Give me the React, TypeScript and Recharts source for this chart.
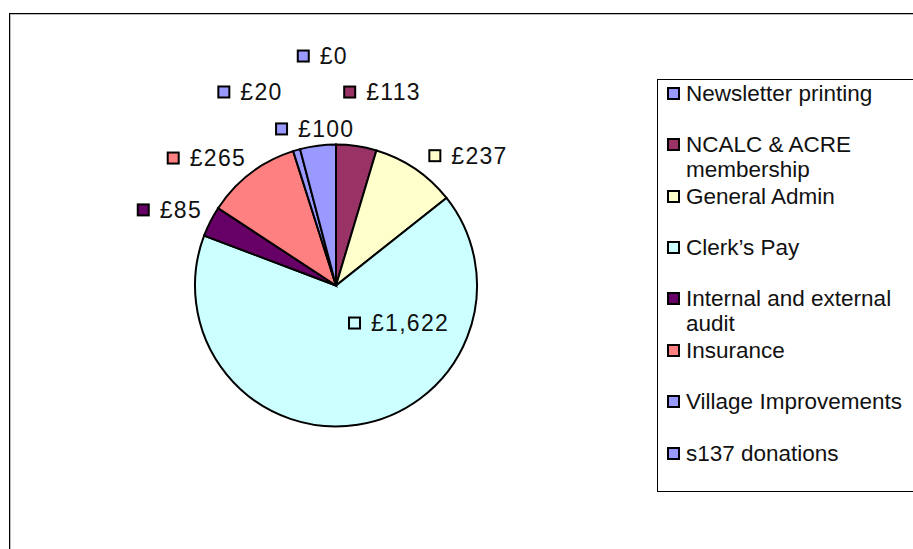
import React from 'react';
import { PieChart, Pie, Cell, Legend } from 'recharts';

const categories = [
  'Newsletter printing',
  'NCALC & ACRE membership',
  'General Admin',
  'Clerk\u2019s Pay',
  'Internal and external audit',
  'Insurance',
  'Village Improvements',
  's137 donations',
];
const values = [0, 113, 237, 1622, 85, 265, 20, 100];
const colors = ['#9999FF', '#993366', '#FFFFCC', '#CCFFFF', '#660066', '#FF8080', '#9999FF', '#9999FF'];

// label placement: angle nudge (deg, clockwise) and distance from pie centre (px)
const labelPlacement = [
  { da: -9.7, dist: 232.8 },
  { da: -6.2, dist: 193.6 },
  { da: 1.3, dist: 159.3 },
  { da: -8.9, dist: 39.4 },
  { da: -6.2, dist: 213.1 },
  { da: -15.8, dist: 211.9 },
  { da: -15.3, dist: 227.0 },
  { da: -13.9, dist: 168.0 },
];

const data = categories.map((name, i) => ({ name, value: values[i] }));

const RAD = Math.PI / 180;
const FONT = '"Liberation Sans", Arial, sans-serif';

const fmt = (v: number) => '\u00A3' + v.toLocaleString('en-GB');

const renderLabel = (props: any) => {
  const { cx, cy, midAngle, index, value } = props;
  const p = labelPlacement[index];
  const ang = midAngle - p.da;
  const x = cx + p.dist * Math.cos(-ang * RAD);
  const y = cy + p.dist * Math.sin(-ang * RAD);
  return (
    <g key={`lbl-${index}`}>
      <rect x={x + 1} y={y - 5.5} width={11} height={11} fill={colors[index]} stroke="#000" strokeWidth={2} />
      <text
        x={x + 23}
        y={y}
        dominantBaseline="central"
        fontFamily={FONT}
        fontSize={23}
        letterSpacing={1.3}
        fill="#111"
      >
        {fmt(value)}
      </text>
    </g>
  );
};

const SLOT = 51.4;

const renderLegend = () => (
  <div
    style={{
      position: 'relative',
      boxSizing: 'border-box',
      width: 300,
      height: 413,
      border: '1px solid #000',
      background: '#fff',
      fontFamily: FONT,
      fontSize: 22.5,
      color: '#111',
    }}
  >
    {categories.map((c, i) => {
      const cyv = 13.3 + i * SLOT;
      return (
        <div key={c}>
          <div
            style={{
              position: 'absolute',
              left: 9,
              top: cyv - 6.5,
              width: 9,
              height: 9,
              border: '2px solid #000',
              background: colors[i],
            }}
          />
          <div
            style={{
              position: 'absolute',
              left: 28,
              top: cyv - 12.5,
              width: 222,
              lineHeight: '25px',
              whiteSpace: 'normal',
            }}
          >
            {c}
          </div>
        </div>
      );
    })}
  </div>
);

export default function App() {
  return (
    <div
      style={{
        position: 'absolute',
        left: 0,
        top: 0,
        width: 913,
        height: 549,
        overflow: 'hidden',
        background: '#fff',
      }}
    >
      <div
        style={{
          position: 'absolute',
          left: 9,
          top: 13,
          width: 1000,
          height: 1000,
          borderLeft: '1px solid #000',
          borderTop: '1px solid #000',
          boxShadow: 'inset 1px 1px 0 #bbb',
        }}
      />
      <div style={{ position: 'absolute', left: 0, top: 0 }}>
        <PieChart width={913} height={549} margin={{ top: 0, right: 0, bottom: 0, left: 0 }}>
          <Pie
            data={data}
            dataKey="value"
            nameKey="name"
            cx={336}
            cy={285.5}
            outerRadius={141}
            startAngle={90}
            endAngle={-270}
            stroke="#000"
            strokeWidth={2}
            isAnimationActive={false}
            labelLine={false}
            label={renderLabel}
          >
            {data.map((d, i) => (
              <Cell key={d.name} fill={colors[i]} />
            ))}
          </Pie>
          <Legend
            layout="vertical"
            align="center"
            verticalAlign="middle"
            content={renderLegend}
            wrapperStyle={{ left: 657, top: 79, width: 300, height: 413, bottom: 'auto', right: 'auto' }}
          />
        </PieChart>
      </div>
    </div>
  );
}
